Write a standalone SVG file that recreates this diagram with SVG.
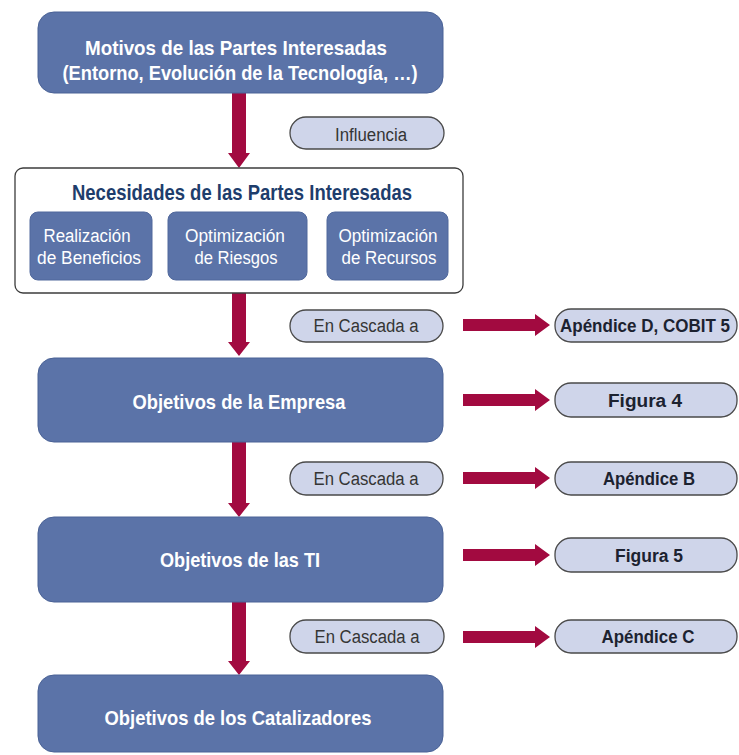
<svg xmlns="http://www.w3.org/2000/svg" width="739" height="755" viewBox="0 0 739 755">
  <defs>
    <style>
      .box { fill: #5b73a8; stroke: #4a6296; stroke-width: 1; }
      .sub { fill: #5b73a8; stroke: #50689c; stroke-width: 1; }
      .frame { fill: #ffffff; stroke: #3c3c3c; stroke-width: 1.3; }
      .pill { fill: #cfd5ea; stroke: #4a4a4a; stroke-width: 1.3; }
      .arrow { fill: #a20a40; }
      text { font-family: "Liberation Sans", Arial, sans-serif; text-anchor: middle; }
      .w { fill: #ffffff; font-weight: bold; font-size: 21px; }
      .ws { fill: #ffffff; font-size: 18px; }
      .title { fill: #1e3d6c; font-weight: bold; font-size: 22px; }
      .lbl { fill: #353535; font-size: 18px; }
      .ref { fill: #1c2230; font-weight: bold; font-size: 18px; }
    </style>
  </defs>
  <rect width="739" height="755" fill="#ffffff"/>

  <!-- connectors -->
  <g id="connectors">
    <!-- vertical cascade arrows -->
    <polygon class="arrow" points="232,93 246,93 246,153 250,153 239,168 228,153 232,153"/>
    <polygon class="arrow" points="232,293 246,293 246,342 250,342 239,356 228,342 232,342"/>
    <polygon class="arrow" points="232,442 246,442 246,503 250,503 239,517 228,503 232,503"/>
    <polygon class="arrow" points="232,602 246,602 246,661 250,661 239,675 228,661 232,661"/>
    <!-- horizontal reference arrows -->
    <polygon class="arrow" points="463,319 535,319 535,314 550,325 535,336 535,331 463,331"/>
    <polygon class="arrow" points="463,394 535,394 535,389 550,400 535,411 535,406 463,406"/>
    <polygon class="arrow" points="463,472 535,472 535,467 550,478 535,489 535,484 463,484"/>
    <polygon class="arrow" points="463,549 535,549 535,544 550,555 535,566 535,561 463,561"/>
    <polygon class="arrow" points="463,631 535,631 535,626 550,637 535,648 535,643 463,643"/>
  </g>

  <g id="motivos">
    <rect class="box" x="38" y="12" width="405" height="81" rx="16"/>
    <text class="w" x="236" y="55" textLength="302" lengthAdjust="spacingAndGlyphs">Motivos de las Partes Interesadas</text>
    <text class="w" x="240" y="80" textLength="355" lengthAdjust="spacingAndGlyphs">(Entorno, Evolución de la Tecnología, …)</text>
  </g>

  <g id="influencia">
    <rect class="pill" x="290" y="117" width="154" height="32" rx="16"/>
    <text class="lbl" x="371" y="141" textLength="72" lengthAdjust="spacingAndGlyphs">Influencia</text>
  </g>

  <g id="necesidades">
    <rect class="frame" x="15" y="168" width="448" height="125" rx="8"/>
    <text class="title" x="242" y="200" textLength="340" lengthAdjust="spacingAndGlyphs">Necesidades de las Partes Interesadas</text>
    <g id="beneficios">
      <rect class="sub" x="30" y="212" width="122" height="68" rx="8"/>
      <text class="ws" x="87" y="242" textLength="87" lengthAdjust="spacingAndGlyphs">Realización</text>
      <text class="ws" x="89" y="264" textLength="104" lengthAdjust="spacingAndGlyphs">de Beneficios</text>
    </g>
    <g id="riesgos">
      <rect class="sub" x="168" y="212" width="139" height="68" rx="8"/>
      <text class="ws" x="235" y="242" textLength="100" lengthAdjust="spacingAndGlyphs">Optimización</text>
      <text class="ws" x="236" y="264" textLength="83" lengthAdjust="spacingAndGlyphs">de Riesgos</text>
    </g>
    <g id="recursos">
      <rect class="sub" x="327" y="212" width="121" height="68" rx="8"/>
      <text class="ws" x="388" y="242" textLength="99" lengthAdjust="spacingAndGlyphs">Optimización</text>
      <text class="ws" x="389" y="264" textLength="95" lengthAdjust="spacingAndGlyphs">de Recursos</text>
    </g>
  </g>

  <g id="cascada-1">
    <rect class="pill" x="290" y="310" width="153" height="32" rx="16"/>
    <text class="lbl" x="366" y="332" textLength="105" lengthAdjust="spacingAndGlyphs">En Cascada a</text>
  </g>
  <g id="apendice-d">
    <rect class="pill" x="555" y="309" width="182" height="33" rx="16"/>
    <text class="ref" x="645" y="332" textLength="170" lengthAdjust="spacingAndGlyphs">Apéndice D, COBIT 5</text>
  </g>

  <g id="empresa">
    <rect class="box" x="38" y="358" width="405" height="84" rx="16"/>
    <text class="w" x="239" y="409" textLength="213" lengthAdjust="spacingAndGlyphs">Objetivos de la Empresa</text>
  </g>
  <g id="figura-4">
    <rect class="pill" x="555" y="383" width="182" height="34" rx="16"/>
    <text class="ref" x="645" y="407" textLength="74" lengthAdjust="spacingAndGlyphs">Figura 4</text>
  </g>

  <g id="cascada-2">
    <rect class="pill" x="290" y="462" width="153" height="33" rx="16"/>
    <text class="lbl" x="366" y="485" textLength="105" lengthAdjust="spacingAndGlyphs">En Cascada a</text>
  </g>
  <g id="apendice-b">
    <rect class="pill" x="555" y="462" width="182" height="33" rx="16"/>
    <text class="ref" x="649" y="485" textLength="92" lengthAdjust="spacingAndGlyphs">Apéndice B</text>
  </g>

  <g id="ti">
    <rect class="box" x="38" y="517" width="405" height="85" rx="16"/>
    <text class="w" x="240" y="567" textLength="160" lengthAdjust="spacingAndGlyphs">Objetivos de las TI</text>
  </g>
  <g id="figura-5">
    <rect class="pill" x="555" y="538" width="182" height="34" rx="16"/>
    <text class="ref" x="649" y="562" textLength="68" lengthAdjust="spacingAndGlyphs">Figura 5</text>
  </g>

  <g id="cascada-3">
    <rect class="pill" x="290" y="620" width="154" height="33" rx="16"/>
    <text class="lbl" x="367" y="643" textLength="105" lengthAdjust="spacingAndGlyphs">En Cascada a</text>
  </g>
  <g id="apendice-c">
    <rect class="pill" x="555" y="620" width="182" height="33" rx="16"/>
    <text class="ref" x="648" y="643" textLength="93" lengthAdjust="spacingAndGlyphs">Apéndice C</text>
  </g>

  <g id="catalizadores">
    <rect class="box" x="38" y="675" width="405" height="77" rx="16"/>
    <text class="w" x="238" y="725" textLength="267" lengthAdjust="spacingAndGlyphs">Objetivos de los Catalizadores</text>
  </g>
</svg>
